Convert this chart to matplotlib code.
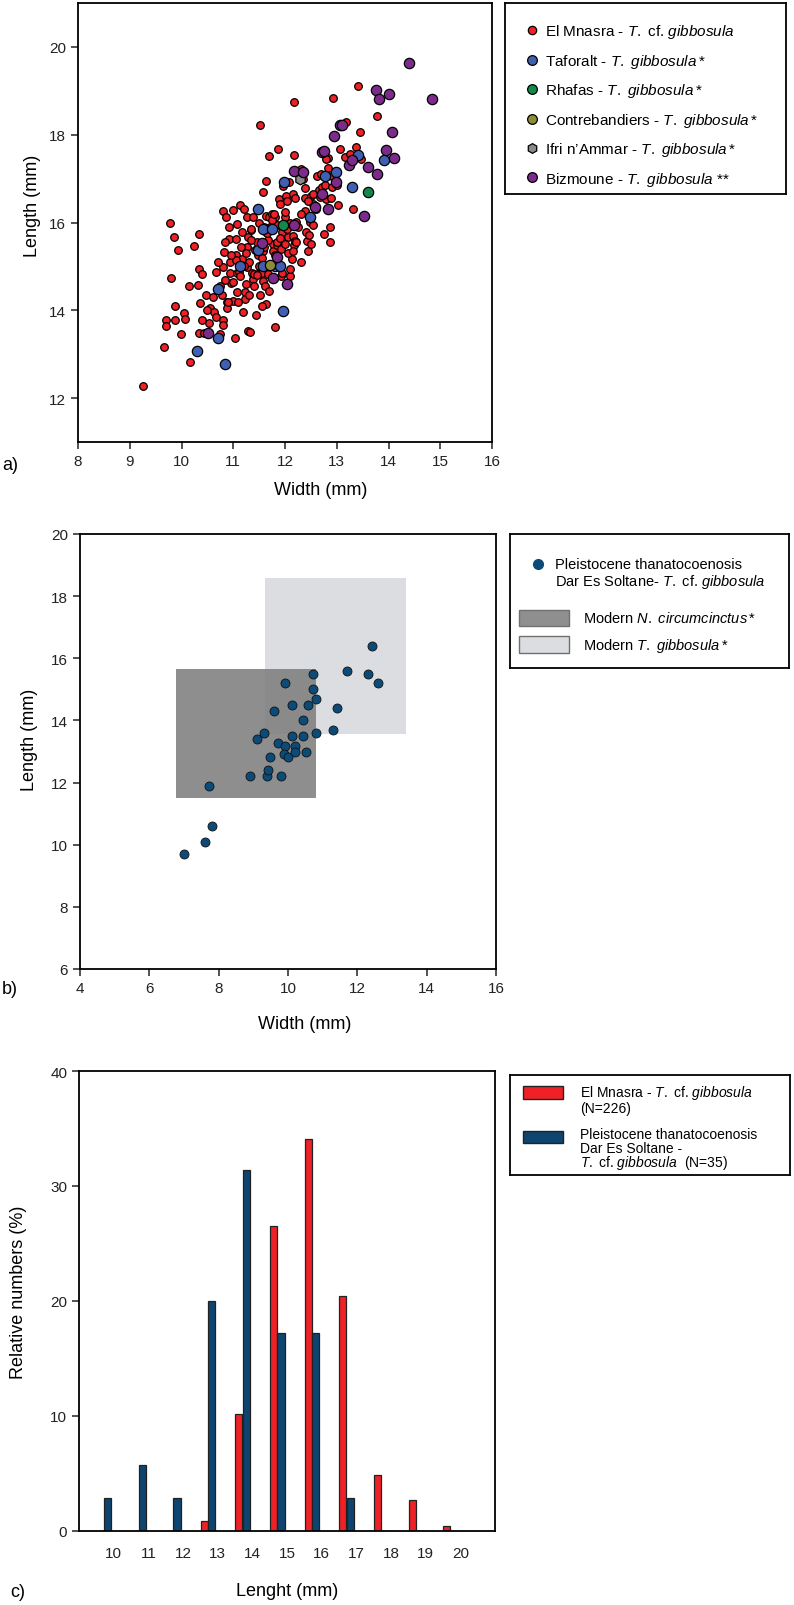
import matplotlib
matplotlib.use("Agg")
import matplotlib.pyplot as plt
from matplotlib.lines import Line2D
from matplotlib.patches import Rectangle
import numpy as np

plt.rcParams['font.family'] = ['Liberation Sans', 'DejaVu Sans']
plt.rcParams['mathtext.fontset'] = 'custom'
plt.rcParams['mathtext.rm'] = 'Liberation Sans'
plt.rcParams['mathtext.it'] = 'Liberation Sans:italic'

# ---- panel a: width / length of shells ----
mnasra = [
    (9.25, 12.28), (9.67, 13.17), (9.70, 13.77), (9.70, 13.65), (9.77, 16.0), (9.85, 15.67),
    (9.79, 14.73), (9.88, 14.1), (9.88, 13.78), (9.94, 15.38), (9.99, 13.47), (10.04, 13.94),
    (10.07, 13.8), (10.17, 12.83), (10.15, 14.55), (10.25, 15.46), (10.31, 14.58), (10.34, 15.73),
    (10.34, 14.93), (10.39, 14.83), (10.36, 14.17), (10.39, 13.77), (10.33, 13.48), (10.44, 13.48),
    (10.48, 14.35), (10.53, 13.7), (10.55, 14.05), (10.62, 13.96), (10.67, 13.85), (10.67, 14.88),
    (10.75, 13.45), (10.78, 14.35), (10.80, 16.27), (10.82, 15.33), (10.80, 14.98), (10.80, 13.77),
    (10.81, 13.67), (10.86, 16.12), (10.87, 14.19), (10.87, 14.05), (10.91, 15.89), (10.91, 15.63),
    (10.93, 15.09), (10.94, 14.84), (10.96, 14.62), (10.99, 14.65), (11.00, 16.29), (11.0, 14.21),
    (11.04, 13.36), (11.05, 15.62), (11.07, 15.96), (11.05, 15.25), (11.08, 14.41), (11.08, 14.84),
    (11.11, 14.87), (11.13, 14.79), (11.13, 16.39), (11.16, 15.78), (11.16, 15.16), (11.20, 16.31),
    (11.18, 13.95), (11.23, 14.41), (11.23, 14.26), (11.26, 14.98), (11.26, 16.12), (11.27, 15.44),
    (11.29, 15.67), (11.29, 13.52), (11.32, 13.50), (11.34, 15.84), (11.36, 14.86), (11.39, 16.12),
    (11.39, 14.71), (11.40, 14.83), (11.42, 15.38), (11.44, 13.89), (11.47, 15.25), (11.49, 14.86),
    (11.51, 14.35), (11.52, 18.22), (11.55, 14.86), (11.58, 14.67), (11.58, 16.69), (11.58, 15.36),
    (11.61, 14.55), (11.63, 16.14), (11.63, 14.14), (11.64, 16.95), (11.64, 15.78), (11.67, 14.83),
    (11.70, 17.52), (11.70, 16.12), (11.71, 15.89), (11.74, 16.19), (11.76, 15.51), (11.76, 15.36),
    (11.81, 16.12), (11.81, 13.61), (11.84, 15.49), (11.87, 17.68), (11.89, 16.53), (11.90, 16.42),
    (11.93, 15.40), (11.93, 14.79), (11.95, 15.78), (11.97, 16.84), (12.0, 16.12), (12.02, 16.61),
    (12.03, 16.48), (12.04, 15.86), (12.06, 15.67), (12.08, 16.93), (12.10, 14.79), (12.13, 15.16),
    (12.15, 15.70), (12.16, 16.65), (12.17, 17.54), (12.17, 18.75), (12.17, 15.49), (12.19, 15.58),
    (12.21, 16.01), (12.22, 15.55), (12.31, 15.11), (12.31, 17.23), (12.38, 16.78), (12.38, 16.55),
    (12.38, 16.27), (12.40, 15.78), (12.42, 15.57), (12.45, 15.36), (12.47, 15.72), (12.48, 16.02),
    (12.51, 16.61), (12.55, 16.42), (12.61, 17.06), (12.66, 16.74), (12.68, 16.57), (12.71, 16.80),
    (12.75, 15.74), (12.77, 16.85), (12.80, 16.53), (12.84, 17.25), (12.84, 17.46), (12.86, 15.55),
    (12.87, 15.89), (12.89, 16.55), (12.90, 16.80), (12.93, 18.83), (12.96, 17.00), (13.03, 16.39),
    (13.06, 17.68), (13.17, 18.28), (13.32, 16.31), (13.37, 17.73), (13.42, 19.11), (13.45, 18.07),
    (13.46, 17.45), (13.77, 18.42),
    (11.45, 15.55), (11.5, 15.0), (11.55, 15.2), (11.6, 15.45), (11.68, 15.6), (11.75, 15.0),
    (11.8, 15.25), (11.85, 15.55), (11.9, 15.65), (11.95, 15.95), (12.0, 15.5), (12.05, 15.3),
    (12.1, 16.0), (11.35, 15.6), (11.3, 15.1), (11.2, 15.0), (11.15, 15.45), (11.05, 15.15),
    (10.95, 15.25), (11.25, 14.6), (11.4, 14.55), (11.45, 14.8), (11.7, 14.45), (11.55, 14.1),
    (11.6, 15.9), (11.85, 15.95), (12.15, 15.35), (12.25, 15.9), (12.3, 16.2), (12.45, 16.5),
    (12.55, 16.65), (12.6, 16.3), (12.7, 17.1), (12.2, 16.55), (12.0, 16.25), (11.75, 16.05),
    (11.5, 16.0), (11.35, 15.85), (10.85, 14.7), (10.75, 14.55), (10.6, 14.3), (10.5, 14.0),
    (10.9, 14.2), (11.1, 14.2), (11.3, 14.35), (12.35, 17.0), (12.9, 17.05), (13.0, 16.85),
    (12.8, 17.45), (13.15, 17.5), (13.25, 17.55), (12.5, 15.5), (12.55, 15.95), (11.95, 14.85),
    (12.1, 14.95), (11.65, 15.75), (11.78, 16.2), (10.85, 15.55), (10.7, 15.1), (11.25, 15.3),
]
mnasra_w = [p[0] for p in mnasra]
mnasra_l = [p[1] for p in mnasra]

taforalt_w = [10.30, 10.71, 10.85, 10.71, 11.13, 11.47, 11.58, 11.74, 11.47, 11.57, 11.81,
              11.90, 11.97, 11.99, 12.49, 12.77, 12.98, 13.29, 13.42, 13.91]
taforalt_l = [13.08, 13.36, 12.77, 14.49, 15.02, 16.30, 15.86, 15.86, 15.38, 15.00, 15.00,
              15.02, 13.98, 16.93, 16.12, 17.07, 17.14, 16.80, 17.54, 17.42]
rhafas_w = [11.97, 13.61]
rhafas_l = [15.95, 16.69]
contre_w = [11.71]
contre_l = [15.04]
ifri_w = [12.29]
ifri_l = [17.00]
bizmoune_w = [10.52, 11.55, 11.84, 11.76, 12.04, 12.17, 12.17, 12.34, 12.58, 12.71, 12.84,
              12.71, 12.76, 12.95, 12.98, 13.06, 13.11, 13.23, 13.29, 13.52, 13.61, 13.77,
              13.76, 13.81, 14.01, 13.96, 14.06, 14.10, 14.40, 14.84]
bizmoune_l = [13.48, 15.54, 15.21, 14.73, 14.61, 15.95, 17.18, 17.14, 16.35, 16.65, 16.30,
              17.60, 17.62, 17.96, 16.93, 18.22, 18.22, 17.31, 17.43, 16.14, 17.26, 17.11,
              19.02, 18.81, 18.92, 17.65, 18.07, 17.47, 19.63, 18.81]

# ---- panel b: Dar Es Soltane ----
des_w = [7.01, 7.61, 7.81, 7.72, 8.91, 9.39, 9.41, 9.80, 9.49, 9.10, 9.31, 9.70, 9.92, 9.89,
         10.01, 10.21, 10.21, 10.11, 10.42, 10.51, 10.42, 9.61, 10.11, 10.59, 10.81, 10.71,
         10.71, 9.91, 10.81, 11.31, 11.41, 11.71, 12.31, 12.41, 12.60]
des_l = [9.70, 10.09, 10.61, 11.90, 12.21, 12.21, 12.40, 12.21, 12.81, 13.41, 13.61, 13.26,
         13.19, 12.91, 12.81, 13.19, 13.00, 13.50, 13.50, 13.00, 14.01, 14.31, 14.50, 14.50,
         14.70, 15.00, 15.51, 15.20, 13.61, 13.70, 14.40, 15.60, 15.51, 16.41, 15.20]
# modern ranges (width min/max, length min/max)
circ_range = (6.76, 10.80, 11.49, 15.65)
gibb_range = (9.34, 13.41, 13.55, 18.57)

# ---- panel c: length classes ----
classes = [10, 11, 12, 13, 14, 15, 16, 17, 18, 19, 20]
mnasra_pct = [0, 0, 0, 0.9, 10.2, 26.5, 34.1, 20.4, 4.9, 2.7, 0.4]
des_pct = [2.9, 5.7, 2.9, 20.0, 31.4, 17.2, 17.2, 2.9, 0, 0, 0]

RED = '#ee2127'
NAVY = '#0e4470'

fig = plt.figure(figsize=(7.94, 16.06), dpi=100)
W, H = 794.0, 1606.0


def ax_px(x0, y0, x1, y1):
    return fig.add_axes([x0 / W, 1 - y1 / H, (x1 - x0) / W, (y1 - y0) / H])


def style(ax):
    for s in ax.spines.values():
        s.set_linewidth(1.3)
    ax.tick_params(direction='out', length=5, width=1.1, labelsize=11, colors='#222222')


def box(ax):
    ax.set_xticks([]); ax.set_yticks([])
    for s in ax.spines.values():
        s.set_linewidth(1.3)


# panel a
ax1 = ax_px(78, 4, 492, 443)
ax1.scatter(mnasra_w, mnasra_l, s=30, c=RED, edgecolors='black', linewidths=0.9, zorder=2)
ax1.scatter(taforalt_w, taforalt_l, s=55, c='#3f5fb3', edgecolors='black', linewidths=0.9, zorder=3)
ax1.scatter(rhafas_w, rhafas_l, s=55, c='#14874a', edgecolors='black', linewidths=0.9, zorder=3)
ax1.scatter(contre_w, contre_l, s=55, c='#8c8b38', edgecolors='black', linewidths=0.9, zorder=3)
ax1.scatter(ifri_w, ifri_l, s=60, c='#8a8a8a', marker='h', edgecolors='black', linewidths=0.9, zorder=3)
ax1.scatter(bizmoune_w, bizmoune_l, s=55, c='#7b2c8b', edgecolors='black', linewidths=0.9, zorder=3)
ax1.set_xlim(8, 16)
ax1.set_ylim(11, 21)
ax1.set_xticks(range(8, 17))
ax1.set_yticks([12, 14, 16, 18, 20])
style(ax1)
ax1.set_xlabel("Width (mm)", fontsize=13)
ax1.xaxis.set_label_coords(0.585, -0.089)
ax1.set_ylabel("Length (mm)", fontsize=13)
ax1.yaxis.set_label_coords(-0.09, 0.54)
fig.text(2 / W, 1 - 466 / H, "a)", fontsize=13, va='center')

leg1 = ax_px(505, 4, 786, 195)
box(leg1)
h1 = [
    Line2D([], [], ls='none', marker='o', ms=6, mfc=RED, mec='black', mew=0.9),
    Line2D([], [], ls='none', marker='o', ms=7, mfc='#3f5fb3', mec='black', mew=0.9),
    Line2D([], [], ls='none', marker='o', ms=7, mfc='#14874a', mec='black', mew=0.9),
    Line2D([], [], ls='none', marker='o', ms=7, mfc='#8c8b38', mec='black', mew=0.9),
    Line2D([], [], ls='none', marker='h', ms=7, mfc='#8a8a8a', mec='black', mew=0.9),
    Line2D([], [], ls='none', marker='o', ms=7, mfc='#7b2c8b', mec='black', mew=0.9),
]
l1 = [r"El Mnasra - $\mathit{T.}$ cf. $\mathit{gibbosula}$",
      r"Taforalt - $\mathit{T.\ gibbosula*}$",
      r"Rhafas - $\mathit{T.\ gibbosula*}$",
      r"Contrebandiers - $\mathit{T.\ gibbosula*}$",
      r"Ifri n’Ammar - $\mathit{T.\ gibbosula*}$",
      r"Bizmoune - $\mathit{T.\ gibbosula}$ **"]
leg1.legend(h1, l1, loc='upper left', bbox_to_anchor=(0.04, 0.93), frameon=False,
            fontsize=11, labelspacing=0.75, handletextpad=0.3, handlelength=1.2, borderaxespad=0)

# panel b
ax2 = ax_px(80, 535, 496, 970)
ax2.add_patch(Rectangle((gibb_range[0], gibb_range[2]), gibb_range[1] - gibb_range[0],
                        gibb_range[3] - gibb_range[2], facecolor='#dcdde0', edgecolor='none', zorder=1))
ax2.add_patch(Rectangle((circ_range[0], circ_range[2]), circ_range[1] - circ_range[0],
                        circ_range[3] - circ_range[2], facecolor='#7f7f7f', alpha=0.88,
                        edgecolor='none', zorder=1))
ax2.scatter(des_w, des_l, s=42, c='#0c4a78', edgecolors='#111111', linewidths=0.6, zorder=3)
ax2.set_xlim(4, 16)
ax2.set_ylim(6, 20)
ax2.set_xticks(range(4, 17, 2))
ax2.set_yticks(range(6, 21, 2))
style(ax2)
ax2.set_xlabel("Width (mm)", fontsize=13)
ax2.xaxis.set_label_coords(0.54, -0.106)
ax2.set_ylabel("Length (mm)", fontsize=13)
ax2.yaxis.set_label_coords(-0.1, 0.53)
fig.text(2 / W, 1 - 990 / H, "b)", fontsize=13, va='center')

leg2 = ax_px(510, 535, 789, 669)
box(leg2)
leg2.set_xlim(0, 279); leg2.set_ylim(134, 0)
leg2.plot([28], [30], ls='none', marker='o', ms=7, mfc='#0c4a78', mec='#0c4a78')
leg2.text(45, 30, "Pleistocene thanatocoenosis", fontsize=10.5, va='center')
leg2.text(45, 47, r"Dar Es Soltane- $\mathit{T.}$ cf. $\mathit{gibbosula}$", fontsize=10.5, va='center')
leg2.add_patch(Rectangle((9, 76), 50, 16, facecolor='#8f8f8f', edgecolor='#707070', lw=1))
leg2.add_patch(Rectangle((9, 102), 50, 17, facecolor='#dcdde0', edgecolor='#707070', lw=1))
leg2.text(73, 84, r"Modern $\mathit{N.\ circumcinctus*}$", fontsize=10.5, va='center')
leg2.text(73, 111, r"Modern $\mathit{T.\ gibbosula*}$", fontsize=10.5, va='center')

# panel c
ax3 = ax_px(79, 1072, 495, 1532)
cx = np.array(classes)
ax3.bar(cx - 0.39, mnasra_pct, width=0.21, color=RED, edgecolor='#222222', linewidth=0.9)
ax3.bar(cx - 0.17, des_pct, width=0.21, color=NAVY, edgecolor='#222222', linewidth=0.9)
ax3.set_xlim(9, 21)
ax3.set_ylim(0, 40)
ax3.set_xticks(classes)
ax3.set_yticks([0, 10, 20, 30, 40])
style(ax3)
ax3.tick_params(axis='x', length=0, pad=11)
ax3.set_xlabel("Lenght (mm)", fontsize=13)
ax3.xaxis.set_label_coords(0.5, -0.111)
ax3.set_ylabel("Relative numbers (%)", fontsize=13)
ax3.yaxis.set_label_coords(-0.125, 0.52)
fig.text(10 / W, 1 - 1593 / H, "c)", fontsize=13, va='center')

leg3 = ax_px(510, 1076, 790, 1176)
box(leg3)
leg3.set_xlim(0, 280); leg3.set_ylim(100, 0)
leg3.add_patch(Rectangle((13, 11), 40, 13, facecolor=RED, edgecolor='#222222', lw=1))
leg3.add_patch(Rectangle((13, 56), 40, 12, facecolor=NAVY, edgecolor='#222222', lw=1))
leg3.text(70, 17, r"El Mnasra - $\mathit{T.}$ cf. $\mathit{gibbosula}$", fontsize=10, va='center')
leg3.text(70, 33, "(N=226)", fontsize=10, va='center')
leg3.text(70, 59, "Pleistocene thanatocoenosis", fontsize=10, va='center')
leg3.text(70, 73, "Dar Es Soltane -", fontsize=10, va='center')
leg3.text(70, 87, r"$\mathit{T.}$ cf. $\mathit{gibbosula}$  (N=35)", fontsize=10, va='center')

fig.savefig("out.png", dpi=100)
